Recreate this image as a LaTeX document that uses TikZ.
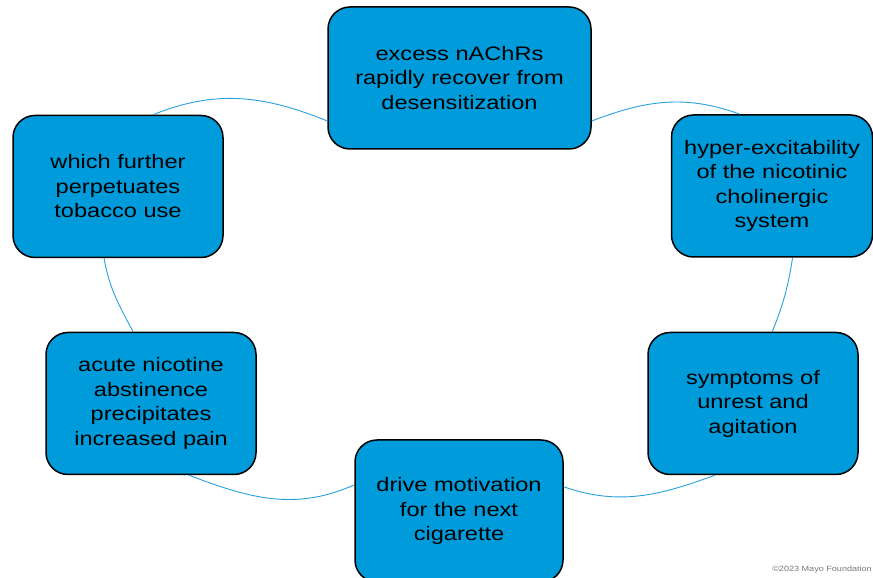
\documentclass[tikz,border=0pt]{standalone}
\usepackage{fontspec}
\setmainfont{Liberation Sans}
\newfontfamily\boxfont[FakeStretch=1.21]{Liberation Sans}
\definecolor{stepblue}{RGB}{0,155,219}
\definecolor{linkblue}{RGB}{40,160,222}
\definecolor{notegray}{RGB}{120,120,120}
\begin{document}
\begin{tikzpicture}[x=1pt,y=1pt,
  stepbox/.style={draw=black, line width=1.5pt, fill=stepblue, rounded corners=22pt,
    align=center, inner sep=0pt, minimum height=142pt,
    font=\boxfont\fontsize{19.5pt}{24.5pt}\selectfont},
  link/.style={draw=linkblue, line width=0.9pt}]
\useasboundingbox (0,0) rectangle (873,578);
\clip (0,0) rectangle (873,578);

% cycle steps
\node[stepbox, minimum width=263pt] (top)  at (459.5,500) {excess nAChRs\\rapidly recover from\\desensitization};
\node[stepbox, minimum width=201pt] (rtop) at (772,392)   {hyper-excitability\\of the nicotinic\\cholinergic\\system};
\node[stepbox, minimum width=210pt] (rbot) at (753,174.5) {symptoms of\\unrest and\\agitation};
\node[stepbox, minimum width=208pt] (bot)  at (459,67)    {drive motivation\\for the next\\cigarette};
\node[stepbox, minimum width=210pt] (lbot) at (151,174.5) {acute nicotine\\abstinence\\precipitates\\increased pain};
\node[stepbox, minimum width=210pt] (ltop) at (118,391.5) {which further\\perpetuates\\tobacco use};

% arcs joining consecutive steps
\path[link] (top.-18.4)  to[out=21,  in=160] (rtop.114.3);
\path[link] (rtop.-74.5) to[out=-99, in=68]  (rbot.75.9);
\path[link] (rbot.-118)  to[out=200, in=-19] (bot.13.5);
\path[link] (bot.166.2)  to[out=204, in=-21] (lbot.-62.6);
\path[link] (lbot.104)   to[out=118, in=-80] (ltop.-101.8);
\path[link] (ltop.64.6)  to[out=22,  in=158] (top.198.5);

% credit line
\node[anchor=east, inner sep=0pt, text=notegray,
  font=\boxfont\fontsize{7.5pt}{9pt}\selectfont] (credit) at (872,8) {\textcopyright 2023 Mayo Foundation};
\end{tikzpicture}
\end{document}
